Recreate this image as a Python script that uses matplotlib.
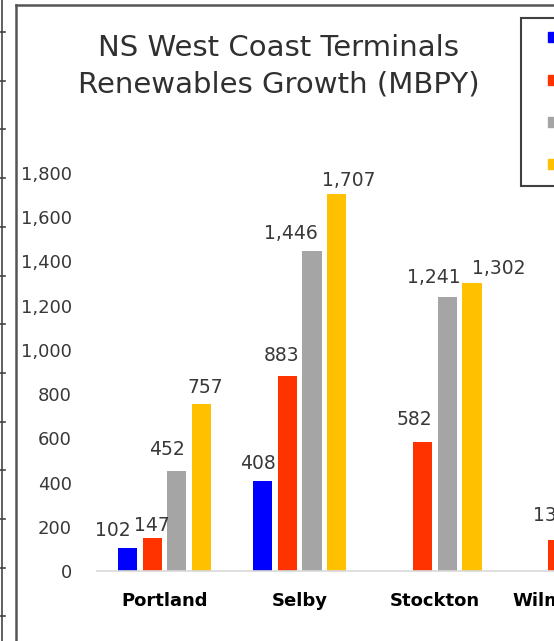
import numpy as np
import matplotlib.pyplot as plt
from matplotlib.lines import Line2D

# Chart data (MBPY)
terminals = ['Portland', 'Selby', 'Stockton', 'Wilmington']
series_names = ['2021', '2022', '2023', '2024']
blue_vals = [102, 408, np.nan, np.nan]
red_vals = [147, 883, 582, 138]
gray_vals = [452, 1446, 1241, np.nan]
gold_vals = [757, 1707, 1302, np.nan]
y_ticks = [0, 200, 400, 600, 800, 1000, 1200, 1400, 1600, 1800]

# Styling
colors = ['#0000FF', '#FF3300', '#A5A5A5', '#FFC000']
text_color = '#383838'
W, H = 554, 641

# Hand-placed data labels in the original chart: (dx, dy) in pixels from bar top centre
label_nudge = [
    [(-15, 18), (-5, 17), None, None],
    [(0, 13), (-6, 20), (-8, 23), (-7, 25)],
    [(-10, 22), (-21, 18), (-13, 19), None],
    [(4, 16), (12, 13), (27, 15), None],
]

fig = plt.figure(figsize=(W / 100, H / 100), dpi=100)
fig.patch.set_facecolor('white')

# Plot area extends past the right edge, like the cropped screenshot
ax = fig.add_axes([96.9 / W, 70 / H, 540.8 / W, 398 / H])

x = np.arange(len(terminals))
all_vals = [blue_vals, red_vals, gray_vals, gold_vals]
bar_w = 0.142
step = 0.1827

for i, (vals, color) in enumerate(zip(all_vals, colors)):
    pos = x + (i - 1.5) * step
    ax.bar(pos, vals, width=bar_w, color=color, zorder=2)
    for j, v in enumerate(vals):
        if np.isnan(v) or label_nudge[i][j] is None:
            continue
        dx, dy = label_nudge[i][j]
        ax.annotate(f'{v:,}', (pos[j], v), xytext=(dx, dy), textcoords='offset pixels',
                    ha='center', va='center', fontsize=13.5, color=text_color,
                    annotation_clip=False)

ax.set_xlim(-0.5, 3.5)
ax.set_ylim(0, 1800)

for side in ['left', 'top', 'right']:
    ax.spines[side].set_visible(False)
ax.spines['bottom'].set_color('#D9D9D9')
ax.spines['bottom'].set_linewidth(1.2)

ax.set_yticks(y_ticks)
ax.set_yticklabels([f'{t:,}' for t in y_ticks], fontsize=13, color=text_color)
ax.set_xticks(x)
ax.set_xticklabels(terminals, fontsize=13, fontweight='bold', color='black')
ax.tick_params(axis='y', length=0, pad=18)
ax.tick_params(axis='x', length=0, pad=15)

# Title
fig.text(279 / W, 1 - 34 / H, 'NS West Coast Terminals\nRenewables Growth (MBPY)',
         ha='center', va='top', fontsize=21, color='#303030', linespacing=1.38)

# Legend (mostly cut off by the screenshot edge)
handles = [Line2D([], [], marker='s', linestyle='none', markersize=7.2,
                  markerfacecolor=c, markeredgecolor=c) for c in colors]
leg = fig.legend(handles, series_names, loc='upper left',
                 bbox_to_anchor=(521 / W, 1 - 18 / H), bbox_transform=fig.transFigure,
                 borderaxespad=0, borderpad=0.65, labelspacing=1.34, handlelength=2.2,
                 handletextpad=0.6, fontsize=13, frameon=True, fancybox=False,
                 edgecolor='#404040', framealpha=1)
leg.get_frame().set_linewidth(1.5)

# Chart border and window edge from the screenshot
fig.add_artist(Line2D([15.5 / W, 15.5 / W], [0, 1 - 5 / H], transform=fig.transFigure,
                      color='#555555', lw=1.8))
fig.add_artist(Line2D([15.5 / W, 1], [1 - 5 / H, 1 - 5 / H], transform=fig.transFigure,
                      color='#555555', lw=1.8))
fig.add_artist(Line2D([2 / W, 2 / W], [0, 1], transform=fig.transFigure,
                      color='#444444', lw=1.2))
for yy in np.arange(32, H, 48.7):
    fig.add_artist(Line2D([0, 5 / W], [1 - yy / H, 1 - yy / H], transform=fig.transFigure,
                          color='#444444', lw=1.2))

plt.savefig('out.png', dpi=100)
